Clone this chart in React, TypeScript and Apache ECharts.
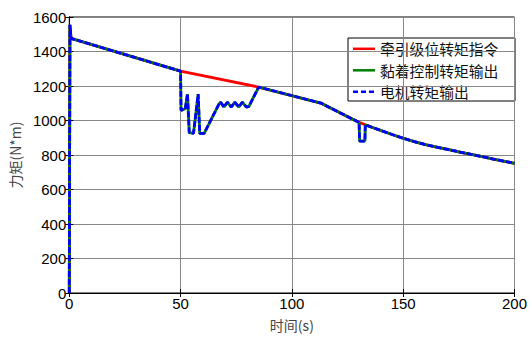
import React, { useEffect, useRef } from "react";
import * as echarts from "echarts";

// Tick values
const xTicks = { min: 0, max: 200, interval: 50 };
const yTicks = { min: 0, max: 1600, interval: 200 };

// 牵引级位转矩指令 (command torque)
const commandTime = [0, 0.3, 0.8, 50, 85, 113, 130.2, 133, 135, 140, 145, 150, 155, 160, 165, 170, 175, 180, 185, 190, 195, 200];
const commandTorque = [0, 1555, 1476, 1286, 1194, 1101, 989, 975, 965, 942, 919, 897, 878, 860, 846, 832, 818, 805, 792, 778, 765, 752];

// 黏着控制转矩输出 (adhesion control output)
const adhesionTime = [0, 0.3, 0.8, 50, 50.2, 52.1, 53.1, 53.9, 55.8, 57.9, 58.6, 60.6, 67.3, 68.0, 69.5, 71.0, 72.8, 74.3, 76.2, 77.7, 79.6, 80.7, 85.1, 113, 130.2, 130.4, 132.8, 133, 135, 140, 145, 150, 155, 160, 165, 170, 175, 180, 185, 190, 195, 200];
const adhesionTorque = [0, 1555, 1476, 1286, 1059, 1068, 1153, 930, 925, 1153, 925, 925, 1097, 1106, 1078, 1106, 1078, 1106, 1078, 1106, 1078, 1082, 1194, 1101, 989, 881, 881, 975, 965, 942, 919, 897, 878, 860, 846, 832, 818, 805, 792, 778, 765, 752];

// 电机转矩输出 (motor torque output) — coincides with the adhesion output
const motorTime = adhesionTime;
const motorTorque = adhesionTorque;

const seriesNames = ["牵引级位转矩指令", "黏着控制转矩输出", "电机转矩输出"];
const seriesColors = ["#ff0000", "#008000", "#0000ff"];

const zip = (t: number[], v: number[]) => t.map((x, i) => [x, v[i]]);

export default function App() {
  const ref = useRef<HTMLDivElement>(null);
  useEffect(() => {
    if (!ref.current) return;
    const chart = echarts.init(ref.current, null, { renderer: "svg" });
    const numFont = "Liberation Sans, Arial, sans-serif";
    const cjkFont = "Noto Sans CJK SC, sans-serif";
    const tickLabel = {
      color: "#000",
      fontSize: 15,
      fontFamily: numFont,
      formatter: (v: number) => String(v),
    };

    // Legend drawn as graphic (line samples with dash styles)
    const lgX = 348;
    const lgY = 38;
    const lgW = 167;
    const lgH = 63;
    const rowY = [48.8, 70.3, 91.8];
    const legendChildren: any[] = [
      {
        type: "rect",
        shape: { x: lgX, y: lgY, width: lgW, height: lgH },
        style: { fill: "#fff", stroke: "#000", lineWidth: 1 },
      },
    ];
    seriesNames.forEach((name, i) => {
      legendChildren.push({
        type: "line",
        shape: { x1: lgX + 5, y1: rowY[i], x2: lgX + 27, y2: rowY[i] },
        style: {
          stroke: seriesColors[i],
          lineWidth: 2.5,
          lineDash: i === 2 ? [5, 3] : null,
        },
      });
      legendChildren.push({
        type: "text",
        x: lgX + 32,
        y: rowY[i],
        style: {
          text: name,
          fill: "#111",
          fontSize: 14.8,
          fontFamily: cjkFont,
          verticalAlign: "middle",
          align: "left",
        },
      });
    });

    chart.setOption({
      animation: false,
      backgroundColor: "#fff",
      grid: {
        left: 69,
        right: 13,
        top: 17,
        bottom: 35,
        show: true,
        borderColor: "#000",
        borderWidth: 1,
        containLabel: false,
      },
      legend: { show: false, data: seriesNames },
      graphic: [{ type: "group", z: 100, children: legendChildren }],
      xAxis: [
        {
          type: "value",
          ...xTicks,
          name: "时间(s)",
          nameLocation: "middle",
          nameGap: 25,
          nameTextStyle: { fontSize: 14, fontFamily: cjkFont, color: "#444" },
          axisLine: { show: true, onZero: false, lineStyle: { color: "#000", width: 1 } },
          axisTick: { show: true, inside: true, length: 4, lineStyle: { color: "#000" } },
          axisLabel: { ...tickLabel, margin: 3 },
          splitLine: { show: true, lineStyle: { color: "#888", width: 1 } },
        },
        {
          type: "value",
          position: "top",
          ...xTicks,
          axisLine: { show: true, lineStyle: { color: "#000" } },
          axisTick: { show: true, inside: true, length: 4, lineStyle: { color: "#000" } },
          axisLabel: { show: false },
          splitLine: { show: false },
        },
      ],
      yAxis: [
        {
          type: "value",
          ...yTicks,
          name: "力矩(N*m)",
          nameLocation: "middle",
          nameRotate: 90,
          nameGap: 42,
          nameTextStyle: { fontSize: 14, fontFamily: cjkFont, color: "#444" },
          axisLine: { show: true, onZero: false, lineStyle: { color: "#000", width: 1 } },
          axisTick: { show: true, inside: true, length: 4, lineStyle: { color: "#000" } },
          axisLabel: { ...tickLabel, margin: 3 },
          splitLine: { show: true, lineStyle: { color: "#888", width: 1 } },
        },
        {
          type: "value",
          position: "right",
          ...yTicks,
          axisLine: { show: true, lineStyle: { color: "#000" } },
          axisTick: { show: true, inside: true, length: 4, lineStyle: { color: "#000" } },
          axisLabel: { show: false },
          splitLine: { show: false },
        },
      ],
      series: [
        {
          name: seriesNames[0],
          type: "line",
          symbol: "none",
          data: zip(commandTime, commandTorque),
          lineStyle: { color: seriesColors[0], width: 2.8 },
          itemStyle: { color: seriesColors[0] },
        },
        {
          name: seriesNames[1],
          type: "line",
          symbol: "none",
          data: zip(adhesionTime, adhesionTorque),
          lineStyle: { color: seriesColors[1], width: 2.8 },
          itemStyle: { color: seriesColors[1] },
        },
        {
          name: seriesNames[2],
          type: "line",
          symbol: "none",
          data: zip(motorTime, motorTorque),
          lineStyle: { color: seriesColors[2], width: 2.8, type: [6, 2] },
          itemStyle: { color: seriesColors[2] },
        },
      ],
    });
    return () => chart.dispose();
  }, []);
  return (
    <div
      ref={ref}
      style={{ position: "fixed", left: 0, top: 0, width: 530, height: 337, background: "#fff" }}
    />
  );
}
